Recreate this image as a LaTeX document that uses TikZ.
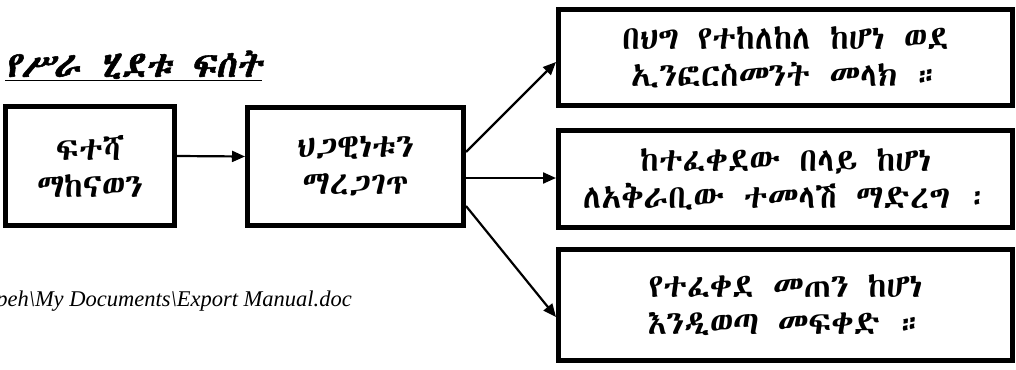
\documentclass[tikz,border=0pt]{standalone}
\usepackage{fontspec}
\setmainfont{Liberation Serif}
\newfontfamily\ethfont[WordSpace=1.3]{Abyssinica SIL}
\newfontfamily\ethtitle[FakeSlant=0.2,FakeBold=1.5,WordSpace=1.2]{Abyssinica SIL}
\usetikzlibrary{arrows.meta}

\tikzset{
    procbox/.style={draw, line width=5pt, align=center, inner sep=0pt,
        font=\ethfont\fontsize{33}{37}\selectfont},
    flow/.style={line width=2.2pt, -{Triangle[length=13pt,width=11pt]}}
}

\begin{document}
\begin{tikzpicture}[x=1pt,y=-1pt]
    \useasboundingbox (0,0) rectangle (1016,369);
    \node[anchor=base west, inner sep=0pt, font=\ethtitle\fontsize{36}{37}\selectfont] (title) at (5,77) {\underline{የሥራ ሂደቱ ፍሰት}};
    \node[procbox, minimum width=169pt, minimum height=119pt] (chk) at (90,166) {ፍተሻ\\ማከናወን};
    \node[procbox, minimum width=216pt, minimum height=118pt] (legal) at (355.5,166.5) {ህጋዊነቱን\\ማረጋገጥ};
    \node[procbox, minimum width=454pt, minimum height=96pt] (ban) at (785.5,57.5) {በህግ የተከለከለ ከሆነ ወደ\\ኢንፎርስመንት መላክ ።};
    \node[procbox, minimum width=454pt, minimum height=97pt] (excess) at (785.5,179) {ከተፈቀደው በላይ ከሆነ\\ለአቅራቢው ተመላሽ ማድረግ ፡};
    \node[procbox, minimum width=454pt, minimum height=111pt] (allow) at (785.5,305) {የተፈቀደ መጠን ከሆነ\\እንዲወጣ መፍቀድ ።};
    \node[anchor=base east, inner sep=0pt, font=\itshape\fontsize{22.5}{24}\selectfont] (path) at (352,306) {peh\textbackslash My Documents\textbackslash Export Manual.doc};
    \draw[flow] ([yshift=10pt]chk.east) -- ([yshift=10pt]legal.west);
    \draw[flow] ([yshift=14.5pt]legal.east) -- ([yshift=-4.5pt]ban.west);
    \draw[flow] ([yshift=-11.5pt]legal.east) -- ([yshift=1pt]excess.west);
    \draw[flow] ([yshift=-39.5pt]legal.east) -- ([yshift=-12pt]allow.west);
\end{tikzpicture}
\end{document}
